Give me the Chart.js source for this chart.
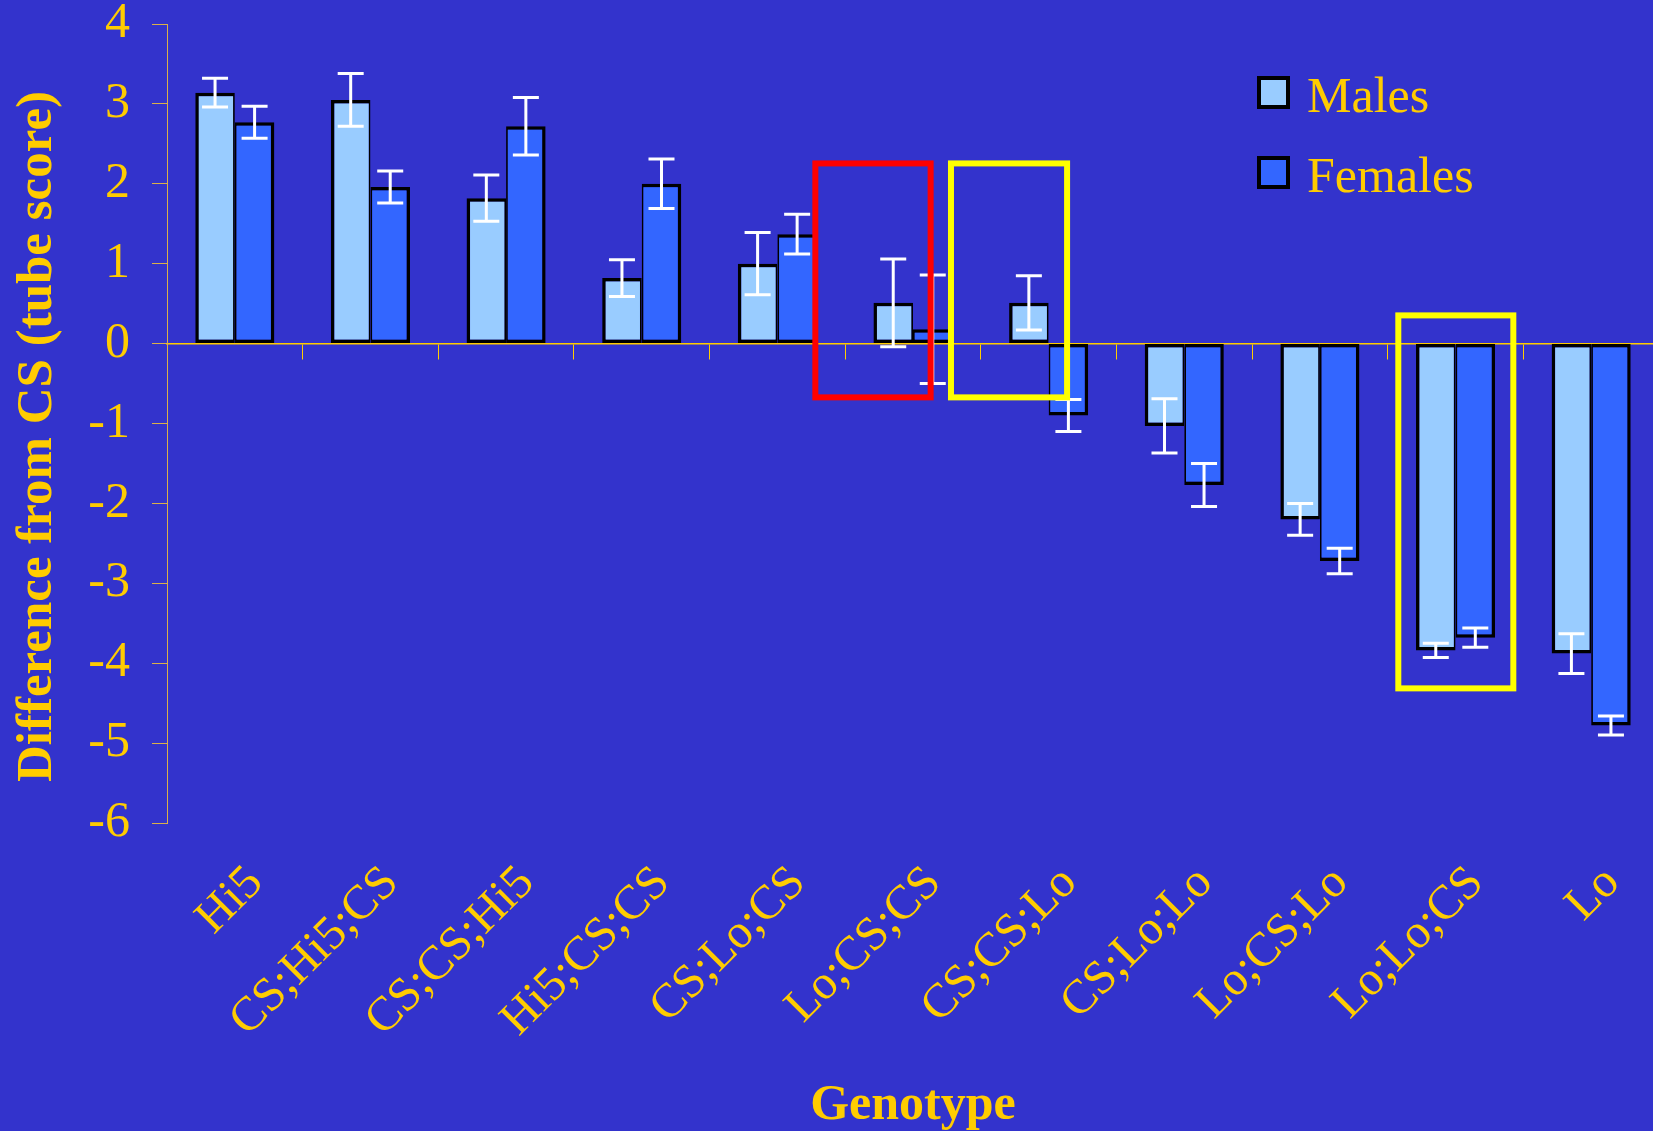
<!DOCTYPE html>
<html>
<head>
<meta charset="utf-8">
<title>Difference from CS by genotype</title>
<script src="https://cdn.jsdelivr.net/npm/chart.js@4.4.1/dist/chart.umd.min.js"></script>
<style>
	html, body { margin: 0; padding: 0; background: #3333cc; overflow: hidden; }
	#chart { display: block; }
</style>
</head>
<body>
<canvas id="chart" width="1659" height="1131"></canvas>
<script>
const GENOTYPES = [
	"Hi5",
	"CS;Hi5;CS",
	"CS;CS;Hi5",
	"Hi5;CS;CS",
	"CS;Lo;CS",
	"Lo;CS;CS",
	"CS;CS;Lo",
	"CS;Lo;Lo",
	"Lo;CS;Lo",
	"Lo;Lo;CS",
	"Lo",
];
const MALES = [3.14, 3.05, 1.82, 0.82, 1.0, 0.51, 0.51, -1.03, -2.2, -3.84, -3.88];
const MALES_ERR = [0.18, 0.33, 0.29, 0.23, 0.39, 0.55, 0.34, 0.34, 0.2, 0.09, 0.25];
const FEMALES = [2.77, 1.96, 2.72, 2.0, 1.37, 0.18, -0.9, -1.77, -2.72, -3.68, -4.78];
const FEMALES_ERR = [0.2, 0.2, 0.36, 0.31, 0.25, 0.68, 0.2, 0.27, 0.16, 0.12, 0.12];
const Y_MIN = -6;
const Y_MAX = 4;
const Y_TITLE = "Difference from CS (tube score)";

// boxes drawn over the bars, in category index / value units
const HIGHLIGHTS = [
	{ from: 4.28, to: 5.13, top: 2.255, bottom: -0.673, color: "#ff0000" },
	{ from: 5.28, to: 6.136, top: 2.255, bottom: -0.673, color: "#ffff00" },
	{ from: 8.578, to: 9.426, top: 0.353, bottom: -4.315, color: "#ffff00" },
];

const YELLOW = "#ffcc00";
const SERIF = "'Liberation Serif', 'Times New Roman', serif";
const CAP = 13;

Chart.defaults.font.family = SERIF;
Chart.defaults.color = YELLOW;

const errorBars = {
	id: "errorBars",
	afterDatasetsDraw(chart) {
		const ctx = chart.ctx;
		const y = chart.scales.y;
		ctx.save();
		ctx.strokeStyle = "#ffffff";
		ctx.lineWidth = 3;
		chart.data.datasets.forEach((ds, di) => {
			chart.getDatasetMeta(di).data.forEach((bar, i) => {
				const top = y.getPixelForValue(ds.data[i] + ds.errors[i]);
				const bottom = y.getPixelForValue(ds.data[i] - ds.errors[i]);
				ctx.beginPath();
				ctx.moveTo(bar.x, top);
				ctx.lineTo(bar.x, bottom);
				ctx.moveTo(bar.x - CAP, top);
				ctx.lineTo(bar.x + CAP, top);
				ctx.moveTo(bar.x - CAP, bottom);
				ctx.lineTo(bar.x + CAP, bottom);
				ctx.stroke();
			});
		});
		ctx.restore();
	},
};

const highlightBoxes = {
	id: "highlightBoxes",
	afterDatasetsDraw(chart) {
		const ctx = chart.ctx;
		const x = chart.scales.x;
		const y = chart.scales.y;
		ctx.save();
		ctx.lineWidth = 6;
		HIGHLIGHTS.forEach((h) => {
			const left = x.getPixelForValue(h.from);
			const right = x.getPixelForValue(h.to);
			const top = y.getPixelForValue(h.top);
			const bottom = y.getPixelForValue(h.bottom);
			ctx.strokeStyle = h.color;
			ctx.strokeRect(left, top, right - left, bottom - top);
		});
		ctx.restore();
	},
};

const legendBoxes = {
	id: "legendBoxes",
	afterDraw(chart) {
		const ctx = chart.ctx;
		const left = 1257;
		ctx.save();
		ctx.font = "50px " + SERIF;
		ctx.textBaseline = "alphabetic";
		chart.data.datasets.forEach((ds, i) => {
			const top = 76 + i * 80;
			ctx.fillStyle = "#000000";
			ctx.fillRect(left, top, 33, 33);
			ctx.fillStyle = ds.backgroundColor;
			ctx.fillRect(left + 4, top + 4, 25, 25);
			ctx.fillStyle = YELLOW;
			ctx.fillText(ds.label, left + 50, top + 36);
		});
		ctx.restore();
	},
};

// y title sits a little below the middle of the axis
const yTitle = {
	id: "yTitle",
	afterDraw(chart) {
		const ctx = chart.ctx;
		const area = chart.chartArea;
		ctx.save();
		ctx.translate(37.5, (area.top + area.bottom) / 2 + 13);
		ctx.rotate(-Math.PI / 2);
		ctx.font = "bold 51px " + SERIF;
		ctx.fillStyle = YELLOW;
		ctx.textAlign = "center";
		ctx.textBaseline = "middle";
		ctx.fillText(Y_TITLE, 0, 0);
		ctx.restore();
	},
};

const config = {
	type: "bar",
	data: {
		labels: GENOTYPES,
		datasets: [
			{
				label: "Males",
				data: MALES,
				errors: MALES_ERR,
				backgroundColor: "#99ccff",
				borderColor: "#000000",
				borderWidth: { top: 3.5, bottom: 3.5, left: 3.5, right: 1.75 },
				borderSkipped: false,
			},
			{
				label: "Females",
				data: FEMALES,
				errors: FEMALES_ERR,
				backgroundColor: "#3366ff",
				borderColor: "#000000",
				borderWidth: { top: 3.5, bottom: 3.5, left: 1.75, right: 3.5 },
				borderSkipped: false,
			},
		],
	},
	plugins: [errorBars, highlightBoxes, legendBoxes, yTitle],
	options: {
		responsive: false,
		animation: false,
		devicePixelRatio: 1,
		layout: { padding: { top: 24, left: 0, right: 0, bottom: 0 } },
		datasets: {
			bar: { categoryPercentage: 0.583, barPercentage: 1 },
		},
		plugins: {
			legend: { display: false },
			tooltip: { enabled: false },
		},
		scales: {
			x: {
				position: "bottom",
				offset: true,
				grid: { display: false, drawTicks: false },
				border: { display: false },
				ticks: {
					autoSkip: false,
					minRotation: 45,
					maxRotation: 45,
					padding: 32,
					labelOffset: 21,
					color: YELLOW,
					font: { size: 48 },
				},
				title: {
					display: true,
					text: "Genotype",
					color: YELLOW,
					font: { size: 50, weight: "bold", lineHeight: 1 },
					padding: 0,
				},
				afterFit(scale) {
					scale.height = 308;
					scale.paddingLeft = 0;
					scale.paddingRight = 0;
				},
			},
			x2: {
				type: "category",
				axis: "x",
				position: { y: 0 },
				offset: true,
				grid: {
					offset: true,
					drawOnChartArea: false,
					tickLength: 15,
					color: YELLOW,
					lineWidth: 1,
				},
				border: { color: YELLOW, width: 1.5 },
				ticks: { display: false, autoSkip: false },
			},
			y: {
				min: Y_MIN,
				max: Y_MAX,
				grid: {
					drawOnChartArea: false,
					tickLength: 15,
					color: "#d9b04a",
					lineWidth: 1,
				},
				border: { color: "#d9b04a", width: 1 },
				ticks: {
					stepSize: 1,
					padding: 22,
					color: YELLOW,
					font: { size: 50, lineHeight: 1 },
				},
				afterFit(scale) {
					scale.width = 167;
					scale.paddingTop = 0;
					scale.paddingBottom = 0;
				},
			},
		},
	},
};

new Chart(document.getElementById("chart"), config);
</script>
</body>
</html>
